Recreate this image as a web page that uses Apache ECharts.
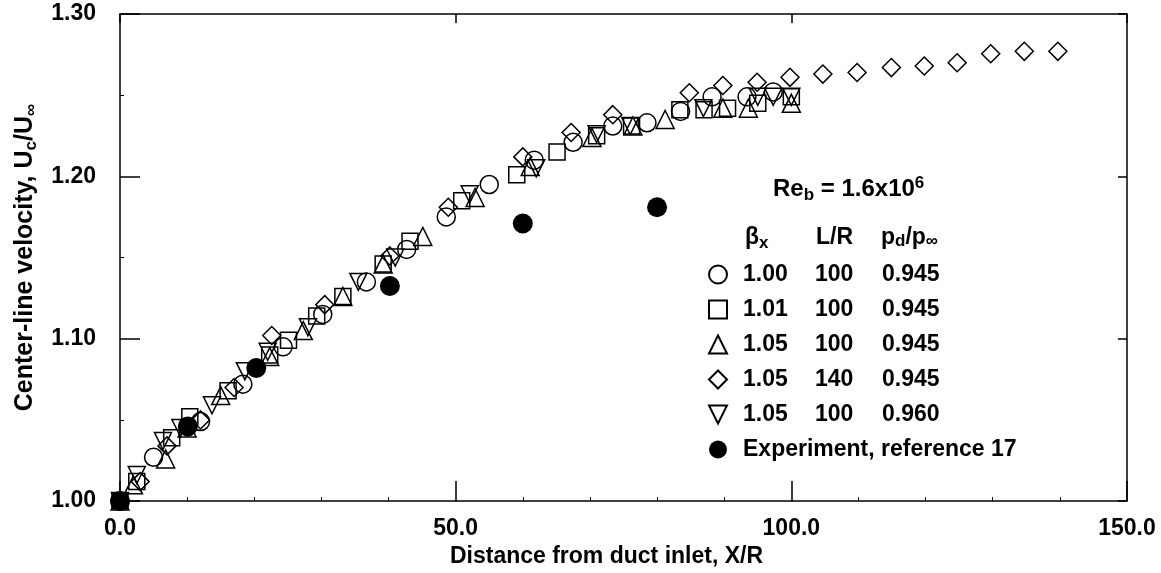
<!DOCTYPE html>
<html>
<head>
<meta charset="utf-8">
<script src="https://cdn.jsdelivr.net/npm/echarts@6/dist/echarts.min.js"></script>
<style>
html,body{margin:0;padding:0;background:#fff;}
#chart{width:1161px;height:573px;}
</style>
</head>
<body>
<div id="chart"></div>
<script>
// ---- Data (X/R, Uc/Uinf) ----
var circleData = [[0,1.0],[5,1.027],[12,1.049],[18.3,1.072],[24.3,1.095],[30.2,1.115],[36.7,1.135],[42.7,1.155],[48.6,1.175],[55,1.195],[61.7,1.21],[67.5,1.221],[73.4,1.231],[78.5,1.233],[83.5,1.24],[88.2,1.249],[93.4,1.249],[97.3,1.252]];
var squareData = [[0,1.0],[2.5,1.012],[7.7,1.039],[10.4,1.052],[16.1,1.068],[22.3,1.09],[25.1,1.099],[29.3,1.114],[33.2,1.126],[39.2,1.146],[43.2,1.16],[50.9,1.185],[59.1,1.201],[65.1,1.215],[71,1.225],[76.2,1.231],[83.4,1.241],[87,1.241],[90.5,1.242],[95,1.245],[100,1.249]];
var triUpData = [[0,1.0],[2,1.01],[6.8,1.026],[10,1.045],[15,1.065],[22.3,1.089],[27.3,1.105],[33.2,1.126],[39.2,1.146],[45.1,1.163],[52.9,1.187],[61.1,1.206],[70.3,1.224],[76.4,1.231],[81.2,1.235],[89.8,1.242],[93.6,1.242],[100,1.245]];
var diamondData = [[0,1.0],[3,1.012],[7,1.034],[12,1.05],[17,1.07],[22.6,1.102],[30.5,1.121],[40.2,1.151],[48.9,1.181],[60,1.212],[67.2,1.227],[73.4,1.238],[84.8,1.2515],[89.8,1.256],[94.9,1.258],[99.8,1.261],[104.7,1.263],[109.8,1.264],[114.9,1.267],[119.8,1.268],[124.7,1.27],[129.7,1.2755],[134.7,1.277],[139.7,1.277]];
var triDownData = [[0,1.0],[2.5,1.016],[6.4,1.037],[9,1.045],[13.7,1.059],[18.6,1.08],[22,1.092],[28,1.107],[35.5,1.135],[41,1.15],[52.1,1.189],[62,1.205],[71,1.226],[76,1.231],[86.9,1.242],[95,1.249],[97.3,1.249],[100,1.249]];
var experimentData = [[0,1.0],[10.1,1.046],[20.3,1.082],[40.2,1.1325],[60,1.171],[80,1.181]];

// ---- Legend table text ----
var seriesNames = ['circle', 'square', 'triUp', 'diamond', 'triDown', 'exp'];
var betaLabels = ['1.00', '1.01', '1.05', '1.05', '1.05'];
var lrLabels = ['100', '100', '100', '140', '100'];
var pLabels = ['0.945', '0.945', '0.945', '0.945', '0.960'];
var expLabel = 'Experiment, reference 17';
var reLabel = { base: 'Re', sub: 'b', mid: ' = 1.6x10', sup: '6' };

var xTicks = { min: 0, max: 150, interval: 50 };
var yTicks = { min: 1.0, max: 1.3, interval: 0.1 };

var FONT = '"Liberation Sans", Arial, Helvetica, sans-serif';
var FS = 23;
var downTri = 'path://M0,0 L10,0 L5,10 Z';

var chart = echarts.init(document.getElementById('chart'), null, { renderer: 'canvas' });

function hollow(name, data, symbol, size) {
  return {
    name: name, type: 'scatter', data: data, symbol: symbol, symbolSize: size,
    itemStyle: { color: 'rgba(255,255,255,0)', borderColor: '#000', borderWidth: 1.5, opacity: 1 },
    emphasis: { disabled: true }, z: 3
  };
}

function t(extra) {
  var o = { fontSize: FS, fontFamily: FONT, fontWeight: 'bold', color: '#000' };
  for (var k in extra) o[k] = extra[k];
  return o;
}

var option = {
  backgroundColor: '#fff',
  animation: false,
  grid: { left: 120, top: 14, width: 1007, height: 489, show: false },
  legend: {
    orient: 'vertical', left: 703, top: 258,
    itemWidth: 18, itemHeight: 18, itemGap: 12,
    selectedMode: false,
    data: [
      { name: 'circle', icon: 'circle' },
      { name: 'square', icon: 'rect' },
      { name: 'triUp', icon: 'triangle' },
      { name: 'diamond', icon: 'diamond' },
      { name: 'triDown', icon: downTri },
      { name: 'exp', icon: 'circle' }
    ],
    formatter: function (name) {
      var i = seriesNames.indexOf(name);
      if (i === 5) return '{s| }{e|' + expLabel + '}';
      return '{s| }{a|' + betaLabels[i] + '}{b|' + lrLabels[i] + '}{c|' + pLabels[i] + '}';
    },
    textStyle: t({ lineHeight: 23, rich: {
      s: t({ width: 11 }), a: t({ width: 72 }), b: t({ width: 67 }), c: t({}), e: t({})
    } })
  },
  xAxis: [{
    type: 'value', min: xTicks.min, max: xTicks.max, interval: xTicks.interval, position: 'bottom',
    axisLine: { onZero: false, lineStyle: { color: '#000', width: 1.5 } },
    axisTick: { inside: true, length: 20, lineStyle: { color: '#000', width: 1.5 } },
    minorTick: { show: true, splitNumber: 5, length: 4, lineStyle: { color: '#000', width: 1 } },
    splitLine: { show: false },
    axisLabel: { formatter: function (v) { return v.toFixed(1); }, margin: 16, color: '#000', fontSize: FS, fontFamily: FONT, fontWeight: 'bold' },
    name: 'Distance from duct inlet, X/R', nameLocation: 'middle', nameGap: 41,
    nameTextStyle: { color: '#000', fontSize: FS, fontFamily: FONT, fontWeight: 'bold', padding: [0, 34, 0, 0] }
  }, {
    type: 'value', min: xTicks.min, max: xTicks.max, interval: xTicks.interval, position: 'top',
    axisLine: { onZero: false, lineStyle: { color: '#000', width: 1.5 } },
    axisTick: { inside: true, length: 9, lineStyle: { color: '#000', width: 1.5 } },
    axisLabel: { show: false }, splitLine: { show: false }
  }],
  yAxis: [{
    type: 'value', min: yTicks.min, max: yTicks.max, interval: yTicks.interval, position: 'left',
    axisLine: { onZero: false, lineStyle: { color: '#000', width: 1.5 } },
    axisTick: { inside: true, length: 20, lineStyle: { color: '#000', width: 1.5 } },
    minorTick: { show: true, splitNumber: 2, length: 4, lineStyle: { color: '#000', width: 1 } },
    splitLine: { show: false },
    axisLabel: { formatter: function (v) { return v.toFixed(2); }, margin: 24, color: '#000', fontSize: FS, fontFamily: FONT, fontWeight: 'bold' },
    name: 'Center-line velocity, U{sub|c}/U{sub|∞}', nameLocation: 'middle', nameGap: 80,
    nameTextStyle: {
      color: '#000', fontSize: 25, fontFamily: FONT, fontWeight: 'bold',
      rich: { sub: { fontSize: 17, fontFamily: FONT, fontWeight: 'bold', color: '#000', padding: [13, 0, 0, 0] } }
    }
  }, {
    type: 'value', min: yTicks.min, max: yTicks.max, interval: yTicks.interval, position: 'right',
    axisLine: { onZero: false, lineStyle: { color: '#000', width: 1.5 } },
    axisTick: { inside: true, length: 9, lineStyle: { color: '#000', width: 1.5 } },
    axisLabel: { show: false }, splitLine: { show: false }
  }],
  graphic: [
    {
      type: 'text', left: 773, top: 175,
      style: {
        text: '{n|' + reLabel.base + '}{sub|' + reLabel.sub + '}{n|' + reLabel.mid + '}{sup|' + reLabel.sup + '}',
        rich: {
          n: { fontSize: 24, fontFamily: FONT, fontWeight: 'bold', fill: '#000', color: '#000' },
          sub: { fontSize: 17, fontFamily: FONT, fontWeight: 'bold', fill: '#000', color: '#000', padding: [12, 0, 0, 0] },
          sup: { fontSize: 17, fontFamily: FONT, fontWeight: 'bold', fill: '#000', color: '#000', padding: [0, 0, 12, 0] }
        }
      }
    },
    {
      type: 'text', left: 745, top: 226,
      style: {
        text: '{n|β}{sub|x}',
        rich: {
          n: { fontSize: FS, fontFamily: FONT, fontWeight: 'bold', fill: '#000', color: '#000' },
          sub: { fontSize: 17, fontFamily: FONT, fontWeight: 'bold', fill: '#000', color: '#000', padding: [12, 0, 0, 0] }
        }
      }
    },
    {
      type: 'text', left: 816, top: 226,
      style: { text: 'L/R', font: 'bold ' + FS + 'px ' + FONT, fill: '#000' }
    },
    {
      type: 'text', left: 881, top: 226,
      style: {
        text: '{n|p}{sub|d}{n|/p}{sub|∞}',
        rich: {
          n: { fontSize: FS, fontFamily: FONT, fontWeight: 'bold', fill: '#000', color: '#000' },
          sub: { fontSize: 17, fontFamily: FONT, fontWeight: 'bold', fill: '#000', color: '#000', padding: [8, 0, 0, 0] }
        }
      }
    }
  ],
  series: [
    hollow('circle', circleData, 'circle', 18),
    hollow('square', squareData, 'rect', 16),
    hollow('triUp', triUpData, 'triangle', 18),
    hollow('diamond', diamondData, 'diamond', 18),
    hollow('triDown', triDownData, downTri, 17),
    {
      name: 'exp', type: 'scatter', data: experimentData, symbol: 'circle', symbolSize: 20,
      itemStyle: { color: '#000', borderColor: '#000', borderWidth: 0, opacity: 1 }, emphasis: { disabled: true }, z: 4
    }
  ]
};
chart.setOption(option);
</script>
</body>
</html>
